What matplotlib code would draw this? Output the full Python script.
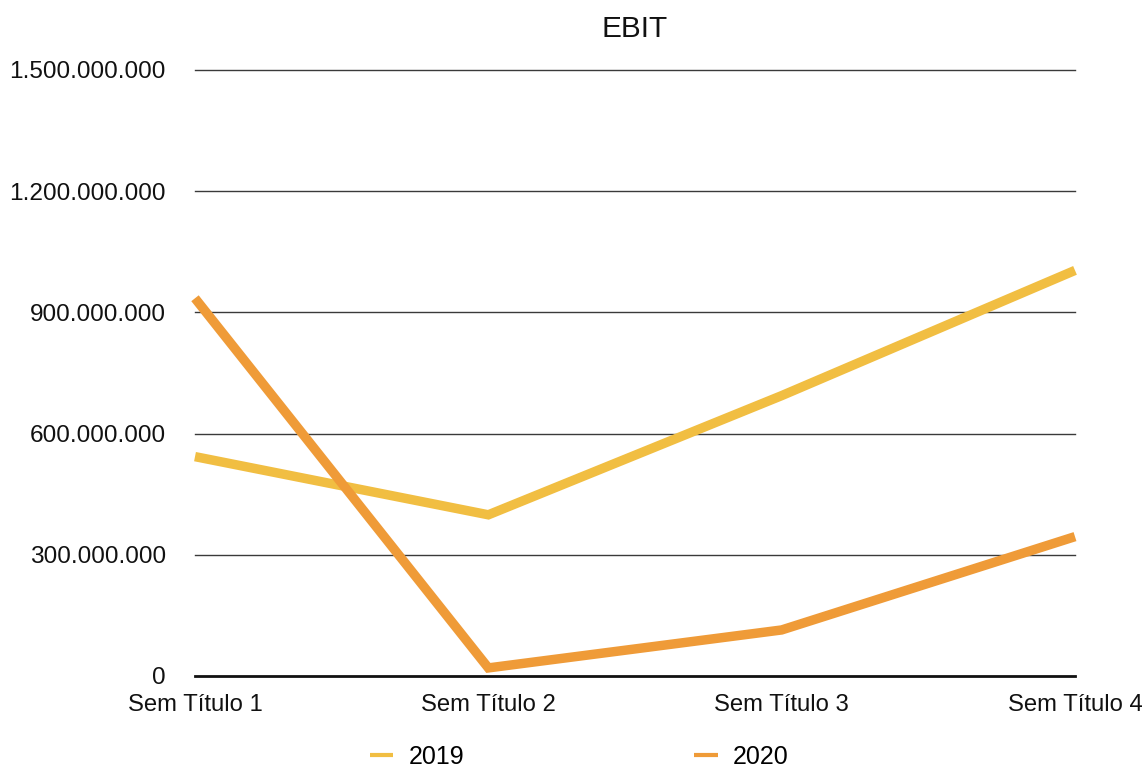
import matplotlib
matplotlib.use("Agg")
import matplotlib.pyplot as plt
from matplotlib.lines import Line2D
from matplotlib.ticker import FuncFormatter

plt.rcParams['font.family'] = ['Liberation Sans', 'DejaVu Sans']

categories = ["Sem Título 1", "Sem Título 2", "Sem Título 3", "Sem Título 4"]
ebit_2019 = [543e6, 399e6, 694e6, 1004e6]
ebit_2020 = [935e6, 20e6, 114e6, 345e6]
series_names = ["2019", "2020"]
y_ticks = [0, 300e6, 600e6, 900e6, 1200e6, 1500e6]

color_2019 = "#F1BE42"
color_2020 = "#EF9B38"

fig = plt.figure(figsize=(11.47, 7.69), dpi=100)
ax = fig.add_axes([195 / 1147, 1 - 676 / 769, 880 / 1147, 606 / 769])

x = list(range(len(categories)))
ax.plot(x, ebit_2019, color=color_2019, lw=6.8, solid_capstyle="butt",
        solid_joinstyle="miter", clip_on=False, zorder=3)
ax.plot(x, ebit_2020, color=color_2020, lw=6.8, solid_capstyle="butt",
        solid_joinstyle="miter", clip_on=False, zorder=4)

ax.set_xlim(0, len(categories) - 1)
ax.set_ylim(0, 1500e6)
ax.set_xticks(x)
ax.set_xticklabels(categories)
ax.set_yticks(y_ticks)


def thousands(v, _pos):
    return f"{int(round(v)):,}".replace(",", ".")


ax.yaxis.set_major_formatter(FuncFormatter(thousands))

for t in y_ticks[1:]:
    ax.axhline(t, color="#3a3a3a", lw=1.0, zorder=1, clip_on=False)
ax.axhline(0, color="#111111", lw=2.0, zorder=2, clip_on=False)

for s in ax.spines.values():
    s.set_visible(False)
ax.tick_params(axis="both", length=0, colors="#111111")
ax.tick_params(axis="y", pad=21, labelsize=17.6)
ax.tick_params(axis="x", pad=13, labelsize=17.2)

ax.set_title("EBIT", fontsize=21.4, color="#111111", pad=24)

handles = [Line2D([], [], color=color_2019, lw=3, solid_capstyle="butt"),
           Line2D([], [], color=color_2020, lw=3, solid_capstyle="butt")]
fig.legend(handles, series_names, loc="center", bbox_to_anchor=(579 / 1147, 1 - 757 / 769),
           ncol=2, frameon=False, fontsize=18, handlelength=0.95, handletextpad=0.6,
           columnspacing=9.2, borderpad=0, borderaxespad=0)

fig.savefig("out.png", dpi=100, facecolor="white")
